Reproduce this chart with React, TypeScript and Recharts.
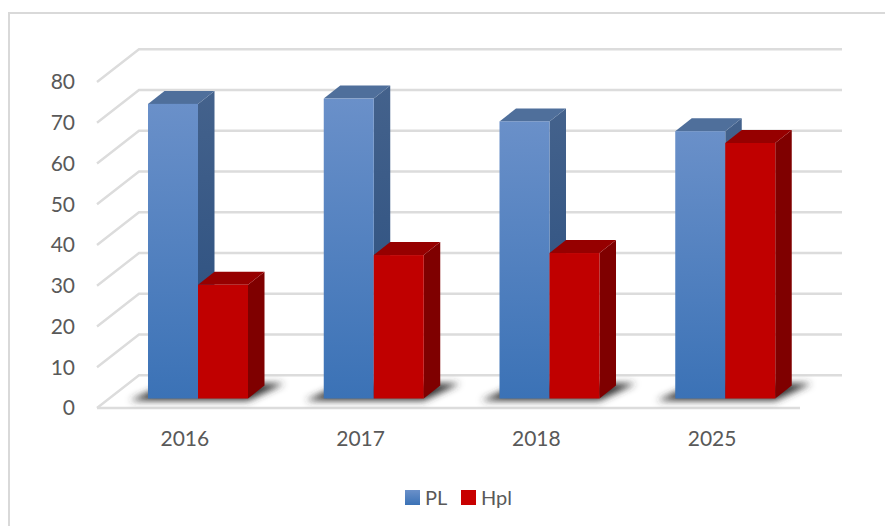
import React from "react";
import { BarChart, Bar, XAxis, YAxis, CartesianGrid, Legend } from "recharts";

const categories = ["2016", "2017", "2018", "2025"];
const plValues = [72.3, 73.6, 68.0, 65.6];
const hplValues = [27.9, 35.2, 35.7, 62.7];
const yTicks = [0, 10, 20, 30, 40, 50, 60, 70, 80];
const rows = categories.map((year, i) => ({ year, PL: plValues[i], Hpl: hplValues[i] }));

const W = 885;
const H = 526;
const FONT = "Lato, 'Open Sans', sans-serif";
const TEXT = "#595959";
const GRID = "#dcdcdc";
// 3D look: wall depth, and where the bars stand in it
const WALL_DX = 42;
const WALL_DY = 32.7;
const BAR_SHIFT_X = 13;
const BAR_SHIFT_Y = 9.5;
const DEPTH_X = 16.5;
const DEPTH_Y = 13;

const GridLine = (p: any) => {
  const { x1, x2, y1 } = p;
  const isFloor = Math.abs(y1 - 408) < 1;
  return (
    <g fill="none" stroke={GRID} strokeWidth={2.4}>
      <polyline points={`${x1},${y1} ${x1 + WALL_DX},${y1 - WALL_DY} ${x2 + WALL_DX},${y1 - WALL_DY}`} />
      {isFloor && <line x1={x1} y1={y1} x2={x2} y2={y1} />}
    </g>
  );
};

const Box = (p: any) => {
  const { x, y, width, height, front, side, top, shadow } = p;
  const fx = x + BAR_SHIFT_X;
  const fy = y - BAR_SHIFT_Y;
  const base = fy + height;
  return (
    <g>
      {shadow && (
        <polygon
          points={`${fx - 18},${base + 2} ${fx + 100},${base + 2} ${fx + 136},${base - 15} ${fx + 20},${base - 15}`}
          fill="#333333"
          filter="url(#floorBlur)"
        />
      )}
      <polygon
        points={`${fx + width},${fy} ${fx + width + DEPTH_X},${fy - DEPTH_Y} ${fx + width + DEPTH_X},${base - DEPTH_Y} ${fx + width},${base}`}
        fill={side}
      />
      <polygon
        points={`${fx},${fy} ${fx + DEPTH_X},${fy - DEPTH_Y} ${fx + width + DEPTH_X},${fy - DEPTH_Y} ${fx + width},${fy}`}
        fill={top}
      />
      <rect x={fx} y={fy} width={width} height={height} fill={front} />
    </g>
  );
};

const PlShape = (p: any) => <Box {...p} front="url(#plFront)" side="url(#plSide)" top="#4f6f9b" shadow />;
const HplShape = (p: any) => <Box {...p} front="#c00000" side="#7f0000" top="#960000" />;

const LegendBody = () => (
  <div style={{ position: "relative", width: 130, height: 28, fontFamily: FONT, fontSize: 20, color: TEXT, lineHeight: "28px" }}>
    <span style={{ position: "absolute", left: 0, top: 6, width: 15, height: 15, background: "linear-gradient(#6a90c9,#3b72b6)" }} />
    <span style={{ position: "absolute", left: 20, top: -1 }}>PL</span>
    <span style={{ position: "absolute", left: 56, top: 6, width: 15, height: 15, background: "#c80000" }} />
    <span style={{ position: "absolute", left: 76, top: -1 }}>Hpl</span>
  </div>
);

export default function App() {
  return (
    <div style={{ position: "absolute", left: 0, top: 0, width: W, height: H, background: "#fff", overflow: "hidden" }}>
      <div style={{ position: "absolute", left: 8, top: 12, right: 0, bottom: 0, borderLeft: "2px solid #d9d9d9", borderTop: "2px solid #d9d9d9" }} />
      <BarChart
        width={W}
        height={H}
        data={rows}
        margin={{ top: 82, right: 85, bottom: 0, left: 0 }}
        barGap={0}
        barSize={50}
        style={{ position: "absolute", left: 0, top: 0 }}
      >
        <defs>
          <linearGradient id="plFront" x1="0" y1="0" x2="0" y2="1">
            <stop offset="0%" stopColor="#6a90c9" />
            <stop offset="100%" stopColor="#3b72b6" />
          </linearGradient>
          <linearGradient id="plSide" x1="0" y1="0" x2="0" y2="1">
            <stop offset="0%" stopColor="#44628c" />
            <stop offset="100%" stopColor="#284d7e" />
          </linearGradient>
          <filter id="floorBlur" x="-20%" y="-60%" width="140%" height="220%">
            <feGaussianBlur stdDeviation="3.5" />
          </filter>
        </defs>
        <CartesianGrid horizontal={GridLine} vertical={false} />
        <XAxis
          dataKey="year"
          height={118}
          axisLine={false}
          tickLine={false}
          tickSize={0}
          tickMargin={23}
          tick={{ fontFamily: FONT, fontSize: 21, fill: TEXT }}
        />
        <YAxis
          width={97}
          domain={[0, 80]}
          ticks={yTicks}
          axisLine={false}
          tickLine={false}
          tickSize={0}
          tickMargin={22}
          interval={0}
          tick={{ fontFamily: FONT, fontSize: 21, fill: TEXT }}
        />
        <Legend
          layout="horizontal"
          verticalAlign="middle"
          align="center"
          content={<LegendBody />}
          wrapperStyle={{ left: 405, top: 484, width: 130, height: 28 }}
        />
        <Bar dataKey="PL" shape={PlShape} isAnimationActive={false} />
        <Bar dataKey="Hpl" shape={HplShape} isAnimationActive={false} />
      </BarChart>
    </div>
  );
}
